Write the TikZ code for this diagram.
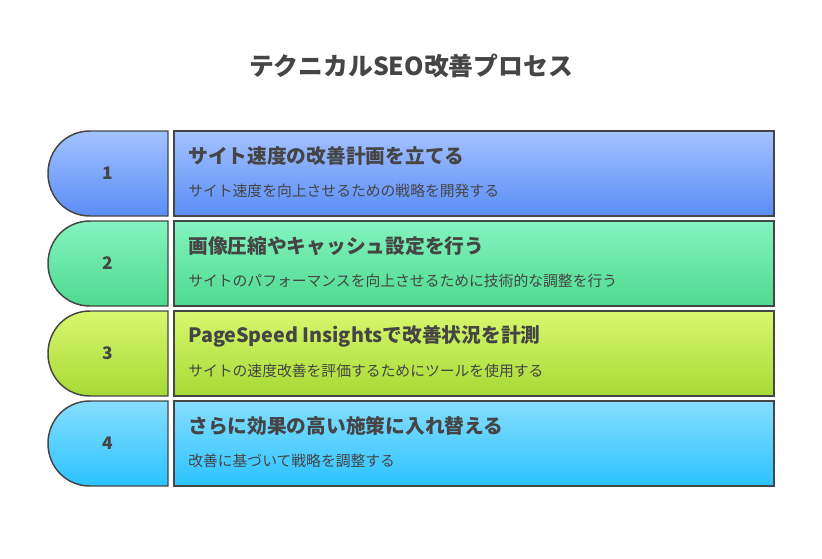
\documentclass[tikz,border=0pt]{standalone}
\usepackage{fontspec}
\setmainfont{Noto Sans CJK JP}
\usetikzlibrary{positioning}
\definecolor{ink}{HTML}{454545}
\definecolor{aT}{HTML}{A3C2FF}\definecolor{aB}{HTML}{5A8DF6}
\definecolor{bT}{HTML}{84F3C0}\definecolor{bB}{HTML}{4FDA8F}
\definecolor{cT}{HTML}{D9F76E}\definecolor{cB}{HTML}{A6DA35}
\definecolor{dT}{HTML}{86DEFF}\definecolor{dB}{HTML}{2BC3FF}
\tikzset{
  stepline/.style={draw=ink, line width=1.1pt},
  headtxt/.style={anchor=west, font=\bfseries\fontsize{14.8}{17}\selectfont, text=ink, inner sep=0pt},
  subtxt/.style={anchor=west, font=\fontsize{11.1}{13}\selectfont, text=ink, inner sep=0pt},
  numtxt/.style={font=\bfseries\fontsize{13}{15}\selectfont, text=ink}
}
\begin{document}
\begin{tikzpicture}[x=0.75pt, y=-0.75pt]
  \useasboundingbox (0,0) rectangle (822,558);
  \node[font=\bfseries\fontsize{18.6}{21}\selectfont, text=ink] (title) at (411,66) {テクニカルSEO改善プロセス};
  \foreach \i/\t/\b/\head/\sub in {
    1/aT/aB/サイト速度の改善計画を立てる/サイト速度を向上させるための戦略を開発する,
    2/bT/bB/画像圧縮やキャッシュ設定を行う/サイトのパフォーマンスを向上させるために技術的な調整を行う,
    3/cT/cB/PageSpeed Insightsで改善状況を計測/サイトの速度改善を評価するためにツールを使用する,
    4/dT/dB/さらに効果の高い施策に入れ替える/改善に基づいて戦略を調整する} {
    \pgfmathsetmacro{\top}{131+90*(\i-1)}
    \pgfmathsetmacro{\bot}{\top+85}
    \pgfmathsetmacro{\mid}{\top+42.5}
    % left tab
    \draw[stepline, top color=\t, bottom color=\b]
      (168,\top) -- (90,\top) .. controls (66,\top) and (48,\top+19) .. (48,\mid)
      .. controls (48,\bot-19) and (66,\bot) .. (90,\bot) -- (168,\bot) -- cycle;
    \node[numtxt] (num\i) at (108,\mid) {\i};
    % right box
    \draw[stepline, top color=\t, bottom color=\b] (174,\top) rectangle (774,\bot);
    \node[headtxt] (head\i) at (188,\top+25) {\head};
    \node[subtxt] (sub\i) at (188,\top+60) {\sub};
  }
\end{tikzpicture}
\end{document}
